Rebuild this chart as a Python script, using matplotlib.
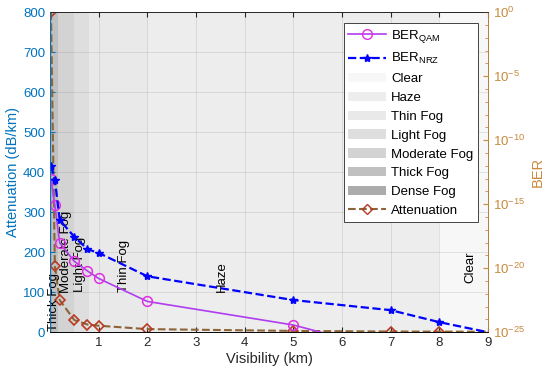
import matplotlib
matplotlib.use("Agg")
import matplotlib.pyplot as plt
from matplotlib.lines import Line2D
from matplotlib.patches import Patch

plt.rcParams['font.family'] = ['Liberation Sans', 'DejaVu Sans']
plt.rcParams['mathtext.fontset'] = 'custom'
plt.rcParams['mathtext.rm'] = 'Liberation Sans'
plt.rcParams['mathtext.it'] = 'Liberation Sans:italic'

# data
vis_qam = [0.02, 0.1, 0.2, 0.5, 0.77, 1, 2, 5, 7]
ber_qam = [8.7e-14, 8.1e-16, 9.3e-19, 3.4e-20, 6.0e-21, 1.55e-21, 2.5e-23, 3.6e-25, 3.6e-27]
vis_nrz = [0.02, 0.1, 0.2, 0.5, 0.77, 1, 2, 5, 7, 8, 10]
ber_nrz = [1.0e-12, 7.9e-14, 5.6e-17, 2.8e-18, 3.0e-19, 1.55e-19, 2.3e-21, 3.2e-23, 5.2e-24, 6.0e-25, 1.6e-26]
vis_att = [0.02, 0.1, 0.2, 0.5, 0.77, 1, 2, 5, 7, 8, 10]
att = [800, 165, 80, 30, 19, 16, 7.5, 3, 1.5, 1.2, 1.0]

regions = ['Clear', 'Haze', 'Thin Fog', 'Light Fog', 'Moderate Fog', 'Thick Fog', 'Dense Fog']
region_lo = [8, 2, 0.8, 0.5, 0.17, 0.05, 0]
region_hi = [9, 8, 2, 0.8, 0.5, 0.17, 0.05]
region_col = ['#f7f7f7', '#ededed', '#e9e9e9', '#dedede', '#d3d3d3', '#c0c0c0', '#acacac']

labels = ['Thick Fog', 'Moderate Fog', 'Light Fog', 'Thin Fog', 'Haze', 'Clear']
label_x = [0.09, 0.32, 0.62, 1.52, 3.53, 8.64]
label_y = [4, 97, 100, 100, 100, 122]

left_col = '#0072BD'
right_col = '#c98a3e'

fig = plt.figure(figsize=(5.5, 3.8), dpi=100)
ax = fig.add_axes([0.0909, 0.126, 0.7964, 0.842])
ax2 = ax.twinx()

for name, lo, hi, c in zip(regions, region_lo, region_hi, region_col):
    ax.axvspan(lo, hi, color=c, lw=0, zorder=0.2)

for t, x, y in zip(labels, label_x, label_y):
    ax.text(x, y, t, rotation=90, ha='center', va='bottom', fontsize=9.5, color='black', zorder=3)

ax.plot(vis_att, att, '--', color='#8c6436', lw=1.5, marker='D', markersize=5.5,
        markerfacecolor='none', markeredgecolor='#b83a22', markeredgewidth=1.2, zorder=2)

ax2.plot(vis_qam, ber_qam, '-', color='#b03cf0', lw=1.2, marker='o', markersize=7,
         markerfacecolor='none', markeredgecolor='#e030e0', markeredgewidth=1.1)
ax2.plot(vis_nrz, ber_nrz, '--', color='#0000ff', lw=1.6, marker='*', markersize=6,
         markerfacecolor='#0000ff', markeredgecolor='#0000ff')

ax.set_xlim(0, 9)
ax.set_xticks(range(1, 10))
ax.set_ylim(0, 800)
ax.set_yticks(range(0, 801, 100))
ax.set_axisbelow(True)
ax.grid(True, color='#262626', alpha=0.12, lw=0.6)

ax2.set_yscale('log')
ax2.set_ylim(1e-25, 1)
ax2.set_yticks([1e-25, 1e-20, 1e-15, 1e-10, 1e-5, 1])
ax2.set_yticklabels([r'$\mathdefault{10^{-25}}$', r'$\mathdefault{10^{-20}}$', r'$\mathdefault{10^{-15}}$',
                     r'$\mathdefault{10^{-10}}$', r'$\mathdefault{10^{-5}}$', r'$\mathdefault{10^{0}}$'])
ax2.set_yticks([10.0 ** -k for k in range(26) if k % 5 != 0], minor=True)
ax2.tick_params(axis='y', which='minor', direction='in', length=2.5, color=right_col, labelright=False)

ax.tick_params(axis='x', direction='in', top=True, length=3.5, labelsize=9.5, colors='#262626')
ax.tick_params(axis='y', direction='in', length=3.5, labelsize=9.5, colors=left_col)
ax2.tick_params(axis='y', which='major', direction='in', length=3.5, labelsize=9.5, colors=right_col)

for s in ax.spines.values():
    s.set_color('#262626')
    s.set_linewidth(0.6)
ax.spines['left'].set_color(left_col)
ax2.spines['left'].set_color(left_col)
ax2.spines['right'].set_color(right_col)
ax2.spines['top'].set_color('#262626')
for s in ax2.spines.values():
    s.set_linewidth(0.6)

ax.set_xlabel('Visibility (km)', fontsize=10.5, color='#262626', labelpad=2)
ax.set_ylabel('Attenuation (dB/km)', fontsize=10.5, color=left_col, labelpad=2)
ax2.set_ylabel('BER', fontsize=10.5, color=right_col, labelpad=4)

handles = [
    Line2D([], [], color='#b03cf0', lw=1.2, marker='o', markersize=7, markerfacecolor='none',
           markeredgecolor='#e030e0'),
    Line2D([], [], color='#0000ff', lw=1.6, ls='--', marker='*', markersize=6),
]
handles += [Patch(facecolor=c, edgecolor='none') for c in region_col]
handles.append(Line2D([], [], color='#8c6436', lw=1.5, ls='--', marker='D', markersize=5.5,
                      markerfacecolor='none', markeredgecolor='#b83a22'))
leg_labels = [r'BER$_{\mathrm{QAM}}$', r'BER$_{\mathrm{NRZ}}$'] + regions + ['Attenuation']
leg = ax2.legend(handles, leg_labels, loc='upper right', bbox_to_anchor=(0.977, 0.966),
                 borderaxespad=0, fontsize=9.5, frameon=True, fancybox=False, framealpha=1,
                 edgecolor='#262626', handlelength=2.9, handletextpad=0.35, labelspacing=0.5,
                 borderpad=0.35)
leg.get_frame().set_linewidth(0.6)

fig.savefig('out.png', dpi=100)
